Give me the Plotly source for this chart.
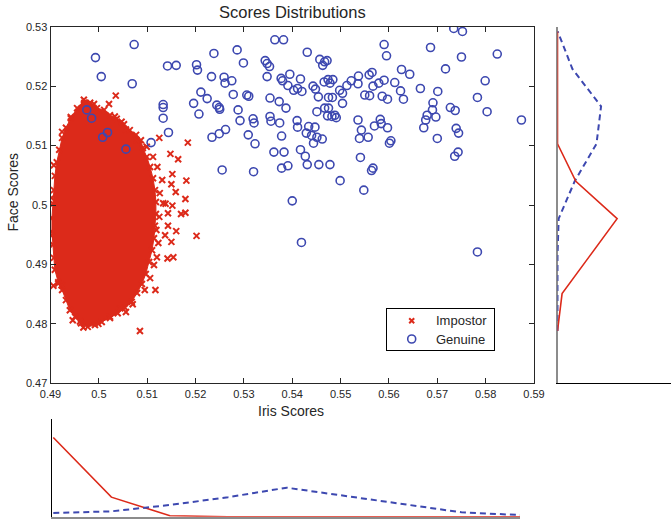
import plotly.graph_objects as go

# ---------------- data ----------------
x_ticks = [0.49, 0.50, 0.51, 0.52, 0.53, 0.54, 0.55, 0.56, 0.57, 0.58, 0.59]
x_tick_labels = ['0.49', '0.5', '0.51', '0.52', '0.53', '0.54', '0.55', '0.56', '0.57', '0.58', '0.59']
y_ticks = [0.47, 0.48, 0.49, 0.50, 0.51, 0.52, 0.53]
y_tick_labels = ['0.47', '0.48', '0.49', '0.5', '0.51', '0.52', '0.53']

genuine_iris = [
    0.4993, 0.5073, 0.5005, 0.5069, 0.5142, 0.5160, 0.5202, 0.5204, 0.5238, 0.5233,
    0.5259, 0.5261, 0.5275, 0.5211, 0.5224, 0.5196, 0.5207, 0.5244, 0.5249, 0.5250,
    0.5133, 0.5133, 0.5133, 0.5144, 0.4975, 0.4985, 0.5018, 0.5008, 0.5056, 0.5108,
    0.5262, 0.5249, 0.5234, 0.5255, 0.5278, 0.5286, 0.5299, 0.5364, 0.5382, 0.5431,
    0.5344, 0.5348, 0.5353, 0.5348, 0.5457, 0.5467, 0.5463, 0.5472, 0.5590, 0.5595,
    0.5306, 0.5310, 0.5288, 0.5292, 0.5319, 0.5321, 0.5309, 0.5323, 0.5354, 0.5373,
    0.5387, 0.5354, 0.5356, 0.5374, 0.5378, 0.5377, 0.5380, 0.5395, 0.5391, 0.5403,
    0.5411, 0.5420, 0.5417, 0.5410, 0.5411, 0.5434, 0.5447, 0.5429, 0.5440, 0.5451,
    0.5462, 0.5444, 0.5443, 0.5448, 0.5454, 0.5466, 0.5474, 0.5484, 0.5478, 0.5451,
    0.5467, 0.5475, 0.5473, 0.5482, 0.5488, 0.5491, 0.5475, 0.5483, 0.5498, 0.5504,
    0.5504, 0.5513, 0.5522, 0.5537, 0.5536, 0.5550, 0.5560, 0.5559, 0.5565, 0.5567,
    0.5579, 0.5590, 0.5586, 0.5597, 0.5536, 0.5543, 0.5570, 0.5582, 0.5584, 0.5557,
    0.5539, 0.5597, 0.5362, 0.5383, 0.5320, 0.5378, 0.5391, 0.5417, 0.5427, 0.5431,
    0.5455, 0.5478, 0.5499, 0.5400, 0.5419, 0.5541, 0.5564, 0.5567, 0.5548, 0.5601,
    0.5604, 0.5734, 0.5752, 0.5686, 0.5824, 0.5750, 0.5626, 0.5643, 0.5717, 0.5799,
    0.5612, 0.5665, 0.5624, 0.5701, 0.5630, 0.5783, 0.5691, 0.5690, 0.5697, 0.5679,
    0.5676, 0.5672, 0.5727, 0.5737, 0.5803, 0.5874, 0.5739, 0.5744, 0.5700, 0.5736,
    0.5743, 0.5783,
]
genuine_face = [
    0.5248, 0.5270, 0.5216, 0.5204, 0.5234, 0.5235, 0.5236, 0.5227, 0.5255, 0.5216,
    0.5215, 0.5205, 0.5209, 0.5190, 0.5179, 0.5171, 0.5153, 0.5168, 0.5164, 0.5161,
    0.5169, 0.5164, 0.5146, 0.5122, 0.5160, 0.5146, 0.5122, 0.5114, 0.5094, 0.5105,
    0.5127, 0.5120, 0.5114, 0.5059, 0.5186, 0.5261, 0.5239, 0.5278, 0.5278, 0.5257,
    0.5243, 0.5238, 0.5233, 0.5216, 0.5245, 0.5241, 0.5235, 0.5243, 0.5270, 0.5251,
    0.5185, 0.5183, 0.5160, 0.5142, 0.5145, 0.5138, 0.5118, 0.5103, 0.5180, 0.5174,
    0.5163, 0.5149, 0.5141, 0.5138, 0.5116, 0.5213, 0.5209, 0.5220, 0.5201, 0.5193,
    0.5196, 0.5191, 0.5212, 0.5142, 0.5131, 0.5132, 0.5131, 0.5121, 0.5117, 0.5114,
    0.5111, 0.5104, 0.5200, 0.5195, 0.5182, 0.5207, 0.5211, 0.5211, 0.5205, 0.5157,
    0.5163, 0.5163, 0.5150, 0.5149, 0.5151, 0.5147, 0.5181, 0.5181, 0.5193, 0.5188,
    0.5171, 0.5201, 0.5209, 0.5217, 0.5204, 0.5185, 0.5184, 0.5219, 0.5223, 0.5200,
    0.5205, 0.5210, 0.5183, 0.5178, 0.5143, 0.5126, 0.5133, 0.5144, 0.5137, 0.5114,
    0.5112, 0.5130, 0.5089, 0.5089, 0.5056, 0.5062, 0.5066, 0.5093, 0.5082, 0.5068,
    0.5068, 0.5068, 0.5041, 0.5007, 0.4937, 0.5080, 0.5058, 0.5062, 0.5025, 0.5104,
    0.5108, 0.5297, 0.5292, 0.5265, 0.5254, 0.5249, 0.5228, 0.5220, 0.5229, 0.5209,
    0.5206, 0.5196, 0.5192, 0.5191, 0.5178, 0.5181, 0.5172, 0.5160, 0.5148, 0.5151,
    0.5143, 0.5130, 0.5164, 0.5159, 0.5157, 0.5143, 0.5129, 0.5121, 0.5112, 0.5082,
    0.5089, 0.4921,
]

# dense impostor cluster: outline of the solid mass
impostor_core_iris = [
    0.4969, 0.4982, 0.4996, 0.5011, 0.5023, 0.5037, 0.5052, 0.5064, 0.5077, 0.5087,
    0.5091, 0.5099, 0.5106, 0.5112, 0.5116, 0.5118, 0.5118, 0.5116, 0.5114, 0.5110,
    0.5104, 0.5097, 0.5089, 0.5079, 0.5068, 0.5054, 0.5039, 0.5023, 0.5006, 0.4992,
    0.4977, 0.4963, 0.4951, 0.4940, 0.4932, 0.4924, 0.4916, 0.4909, 0.4907, 0.4905,
    0.4903, 0.4903, 0.4905, 0.4907, 0.4909, 0.4913, 0.4918, 0.4924, 0.4932, 0.4942,
    0.4955,
]
impostor_core_face = [
    0.5177, 0.5172, 0.5163, 0.5160, 0.5151, 0.5145, 0.5136, 0.5126, 0.5118, 0.5109,
    0.5096, 0.5081, 0.5064, 0.5045, 0.5025, 0.5005, 0.4985, 0.4965, 0.4944, 0.4924,
    0.4904, 0.4884, 0.4867, 0.4852, 0.4837, 0.4827, 0.4818, 0.4810, 0.4803, 0.4798,
    0.4795, 0.4801, 0.4812, 0.4823, 0.4840, 0.4857, 0.4870, 0.4891, 0.4911, 0.4933,
    0.4955, 0.4978, 0.5002, 0.5025, 0.5049, 0.5072, 0.5093, 0.5113, 0.5130, 0.5146,
    0.5163,
]
# scattered impostor samples around the cluster
impostor_iris = [
    0.5035, 0.5021, 0.4970, 0.4942, 0.5184, 0.5125, 0.5148, 0.5164, 0.5152, 0.5181,
    0.5150, 0.5159, 0.5179, 0.5152, 0.5138, 0.5170, 0.5179, 0.5143, 0.5143, 0.5160,
    0.5202, 0.5137, 0.5150, 0.5142, 0.5154, 0.5117, 0.5085, 0.5070, 0.5056, 0.5044,
    0.4999, 0.4968, 0.4961, 0.4946, 0.4923, 0.4916, 0.4906, 0.4901, 0.4902, 0.4907,
    0.5120, 0.5095, 0.5023, 0.4924, 0.4990,
    0.5033, 0.5047, 0.5056, 0.5078, 0.5099, 0.5112, 0.5121, 0.5131, 0.5126, 0.5133,
    0.5125, 0.5119, 0.5123, 0.5114, 0.5106,
]
impostor_face = [
    0.5184, 0.5170, 0.5172, 0.5148, 0.5105, 0.5113, 0.5086, 0.5077, 0.5052, 0.5041,
    0.5035, 0.5022, 0.5010, 0.4999, 0.5002, 0.4985, 0.4987, 0.4986, 0.4965, 0.4956,
    0.4948, 0.4949, 0.4938, 0.4910, 0.4912, 0.4857, 0.4788, 0.4833, 0.4820, 0.4826,
    0.4800, 0.4794, 0.4804, 0.4806, 0.4865, 0.4868, 0.4864, 0.4949, 0.5012, 0.5067,
    0.4912, 0.4857, 0.4812, 0.5123, 0.5170,
    0.5149, 0.5140, 0.5127, 0.5109, 0.5098, 0.5081, 0.5064, 0.5042, 0.5020, 0.5003,
    0.4980, 0.4958, 0.4936, 0.4899, 0.4877,
]

# marginal distributions
iris_bins = [0.4906, 0.5026, 0.5147, 0.5267, 0.5388, 0.5508, 0.5629, 0.5749, 0.5870]
iris_impostor_pdf = [0.81, 0.20, 0.01, 0.0, 0.0, 0.0, 0.0, 0.0, 0.0]
iris_genuine_pdf = [0.038, 0.055, 0.12, 0.20, 0.297, 0.212, 0.127, 0.045, 0.017]

face_bins = [0.4788, 0.4851, 0.4914, 0.4977, 0.5040, 0.5103, 0.5166, 0.5229, 0.5292]
face_impostor_pdf = [0.0, 0.04, 0.28, 0.52, 0.16, 0.0, 0.0, 0.0, 0.0]
face_genuine_pdf = [0.0, 0.0, 0.0, 0.01, 0.15, 0.34, 0.38, 0.13, 0.002]

legend_labels = ['Impostor', 'Genuine']

# ---------------- style ----------------
RED = '#DC2A1A'
BLUE = '#3D48B0'
DARK = '#262626'
FONT = 'Liberation Sans, Arial, Helvetica, sans-serif'

W, H = 671, 519
main_x = [50.5 / W, 534 / W]
main_y = [(H - 383.3) / H, (H - 26.7) / H]
bot_x = [51.7 / W, 520 / W]
bot_y = [2.3 / H, 100 / H]
right_x = [557.5 / W, 1.0]
leg_x = [386.7 / W, 494 / W]
leg_y = [(H - 349.7) / H, (H - 308.7) / H]

fig = go.Figure()

fig.add_trace(go.Scatter(
    x=impostor_core_iris, y=impostor_core_face, mode='lines+markers',
    fill='toself', fillcolor=RED, line=dict(color=RED, width=1),
    marker=dict(symbol='x-thin-open', size=6, color=RED, line=dict(color=RED, width=2)),
    showlegend=False, hoverinfo='skip'))

fig.add_trace(go.Scatter(
    x=impostor_iris, y=impostor_face, mode='markers', name=legend_labels[0], showlegend=False,
    marker=dict(symbol='x-thin-open', size=6, color=RED, line=dict(color=RED, width=2))))

fig.add_trace(go.Scatter(
    x=genuine_iris, y=genuine_face, mode='markers', name=legend_labels[1], showlegend=False,
    marker=dict(symbol='circle-open', size=8, color=BLUE, line=dict(color=BLUE, width=1.6))))

# bottom marginal (iris)
fig.add_trace(go.Scatter(
    x=iris_bins, y=iris_impostor_pdf, mode='lines', xaxis='x2', yaxis='y2',
    line=dict(color=RED, width=1.6), showlegend=False))
fig.add_trace(go.Scatter(
    x=iris_bins, y=iris_genuine_pdf, mode='lines', xaxis='x2', yaxis='y2',
    line=dict(color=BLUE, width=2, dash='6px,4px'), showlegend=False))

# right marginal (face)
fig.add_trace(go.Scatter(
    x=face_genuine_pdf, y=face_bins, mode='lines', xaxis='x3', yaxis='y3',
    line=dict(color=BLUE, width=2, dash='6px,4px'), showlegend=False))
fig.add_trace(go.Scatter(
    x=face_impostor_pdf, y=face_bins, mode='lines', xaxis='x3', yaxis='y3',
    line=dict(color=RED, width=1.6), showlegend=False))

# legend box (inset axes): key symbols and labels
key_x = 0.233
key_rows = [0.707, 0.261]
fig.add_trace(go.Scatter(
    x=[key_x], y=[key_rows[0]], mode='markers', xaxis='x4', yaxis='y4', showlegend=False,
    marker=dict(symbol='x-thin-open', size=5, color=RED, line=dict(color=RED, width=2)),
    hoverinfo='skip'))
fig.add_trace(go.Scatter(
    x=[key_x], y=[key_rows[1]], mode='markers', xaxis='x4', yaxis='y4', showlegend=False,
    marker=dict(symbol='circle-open', size=8, color=BLUE, line=dict(color=BLUE, width=1.6)),
    hoverinfo='skip'))

hidden = dict(showgrid=False, zeroline=False, showticklabels=False, ticks='', automargin=False)

fig.update_layout(
    width=W, height=H,
    margin=dict(l=0, r=0, t=0, b=0, pad=0, autoexpand=False),
    paper_bgcolor='white', plot_bgcolor='white',
    font=dict(family=FONT, color=DARK),
    showlegend=False,
    hovermode=False,
    xaxis=dict(domain=main_x, range=[0.49, 0.59], tickvals=x_ticks, ticktext=x_tick_labels,
               ticks='inside', ticklen=5, tickcolor=DARK, showline=True, mirror='ticks',
               linecolor=DARK, linewidth=1, showgrid=False, zeroline=False, automargin=False,
               tickfont=dict(size=11, color=DARK), anchor='y'),
    yaxis=dict(domain=main_y, range=[0.47, 0.53], tickvals=y_ticks, ticktext=y_tick_labels,
               ticks='inside', ticklen=5, tickcolor=DARK, showline=True, mirror='ticks',
               linecolor=DARK, linewidth=1, showgrid=False, zeroline=False, automargin=False,
               tickfont=dict(size=11, color=DARK), anchor='x'),
    xaxis2=dict(domain=bot_x, range=[0.49027, 0.5870], anchor='y2', showline=True,
                linecolor='#8c8c8c', linewidth=2.5, layer='below traces', **hidden),
    yaxis2=dict(domain=bot_y, range=[0, 1.0], anchor='x2', showline=True,
                linecolor='black', linewidth=1, **hidden),
    xaxis3=dict(domain=right_x, range=[0, 0.99], anchor='y3', showline=True,
                linecolor='black', linewidth=1, **hidden),
    yaxis3=dict(domain=main_y, range=[0.47, 0.53], anchor='x3', showline=True,
                linecolor='#8c8c8c', linewidth=2, layer='below traces', **hidden),
    xaxis4=dict(domain=leg_x, range=[0, 1], anchor='y4', showline=True, mirror=True,
                linecolor='black', linewidth=1.2, **hidden),
    yaxis4=dict(domain=leg_y, range=[0, 1], anchor='x4', showline=True, mirror=True,
                linecolor='black', linewidth=1.2, **hidden),
    annotations=[
        dict(text='Scores Distributions', x=292 / W, y=(H - 12) / H, xref='paper', yref='paper',
             showarrow=False, xanchor='center', yanchor='middle', font=dict(size=16.5, color=DARK)),
        dict(text='Iris Scores', x=291 / W, y=(H - 411) / H, xref='paper', yref='paper',
             showarrow=False, xanchor='center', yanchor='middle', font=dict(size=14, color=DARK)),
        dict(text='Face Scores', x=12.5 / W, y=(H - 192) / H, xref='paper', yref='paper',
             showarrow=False, xanchor='center', yanchor='middle', textangle=-90,
             font=dict(size=14, color=DARK)),
        dict(text=legend_labels[0], x=0.441, y=key_rows[0], xref='x4', yref='y4',
             showarrow=False, xanchor='left', yanchor='middle', font=dict(size=13, color=DARK)),
        dict(text=legend_labels[1], x=0.441, y=key_rows[1], xref='x4', yref='y4',
             showarrow=False, xanchor='left', yanchor='middle', font=dict(size=13, color=DARK)),
    ],
)

fig.write_html(
    'out.html',
    config={'displayModeBar': False, 'staticPlot': True},
    post_script="document.body.style.margin='0px';document.body.style.overflow='hidden';"
)
